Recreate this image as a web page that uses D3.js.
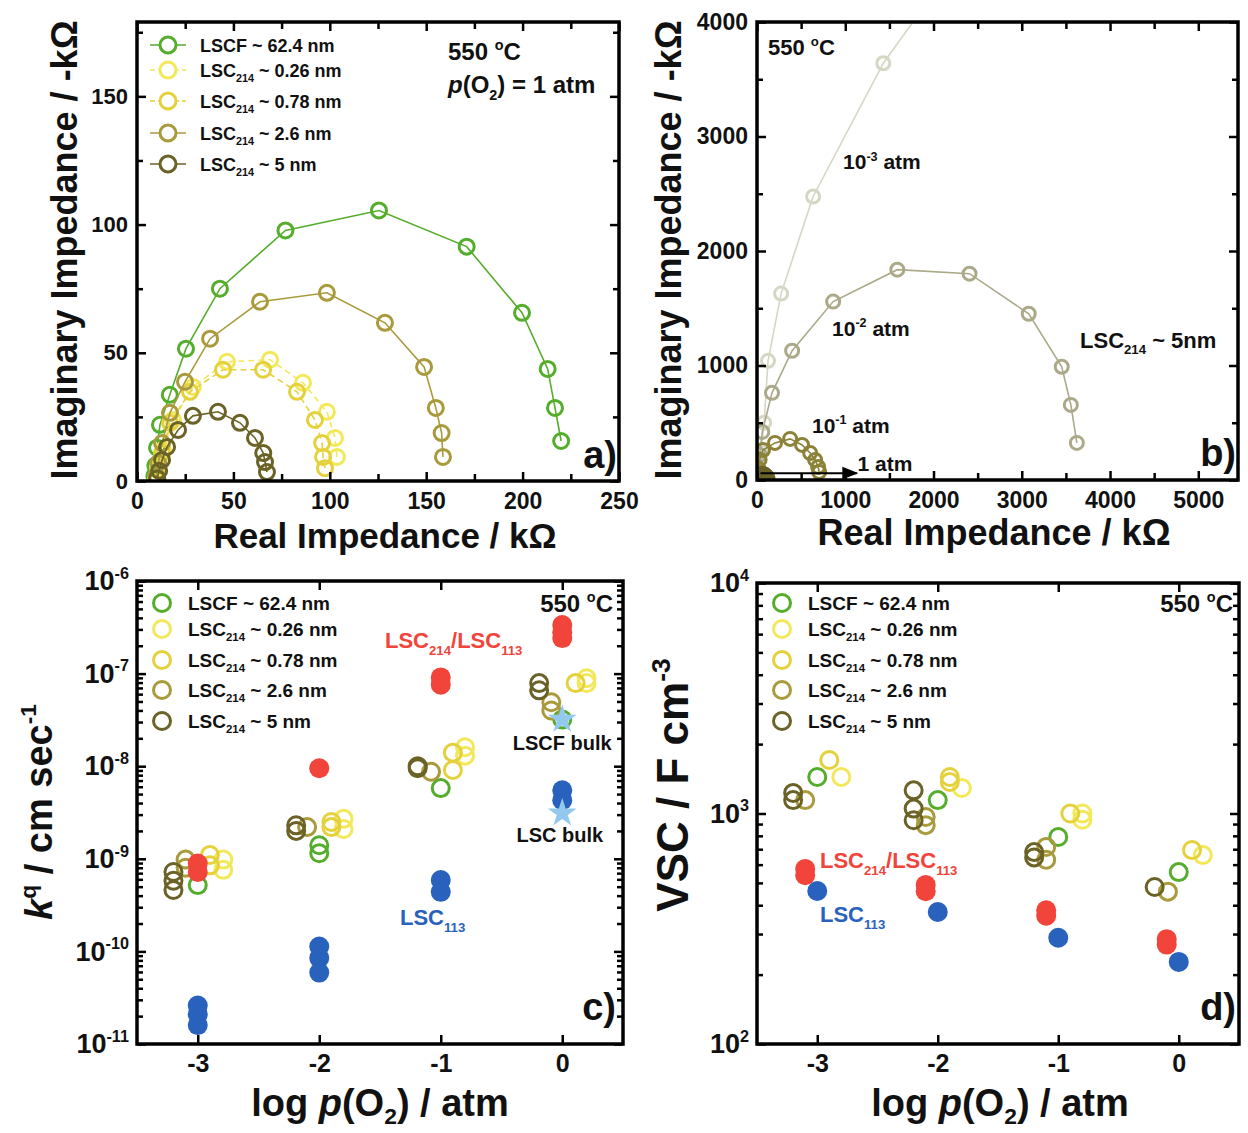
<!DOCTYPE html>
<html><head><meta charset="utf-8">
<script src="https://cdn.jsdelivr.net/npm/d3@7"></script>
<style>
body{margin:0;background:#fff}
svg{display:block;font-family:"Liberation Sans",Arial,sans-serif;font-weight:bold}
</style></head><body>
<script>
// ---- data ----
// a) Nyquist plots at 1 atm, [Z' kOhm, -Z'' kOhm]
const aLSCF = [[220,15.6],[216.8,28.5],[213,43.7],[199.7,65.6],[171,91.4],[125.5,105.5],[77,97.7],[43,75],[25.4,51.6],[17,33.6],[11.9,21.9],[10.4,13],[9.5,6],[9,2]]
const aLSC026 = [[103.7,9.4],[102.7,16.8],[98.5,27],[86.1,38.3],[69,47.3],[46.7,46.5],[29,36.7],[18.7,23.8],[13.5,12.1],[11,5],[10,1.5]]
const aLSC078 = [[97.5,5],[96.5,9.4],[96,14.8],[92.3,23.8],[83,34.8],[65.4,43.4],[44.6,43.4],[27.5,34.8],[17.1,22.7],[13,10.9],[11,4],[10,1]]
const aLSC26 = [[158.7,9.4],[158,18.7],[155,28.5],[148.9,44.5],[128.6,61.7],[98.5,73.4],[63.8,69.9],[37.9,55.5],[24.9,38.7],[17.1,26.6],[13,14.8],[11,7],[10,2]]
const aLSC5 = [[67.4,3.5],[66.4,7.4],[65.5,10.9],[61.2,16.8],[53.4,22.7],[42,27],[29,25.4],[21.3,19.9],[15.6,13.3],[13,8.2],[11.5,4],[10.5,1]]

// b) LSC214 ~ 5 nm at several p(O2)
const b3 = [[2000,4250],[1431,3640],[636,2476],[273,1628],[125,1041],[80,499],[45,250],[25,90]]
const b2 = [[3624,324],[3556,656],[3453,989],[3079,1452],[2408,1802],[1590,1837],[863,1558],[398,1129],[170,761],[60,420],[30,220],[15,80]]
const b1 = [[704,70],[693,114],[659,175],[602,236],[511,306],[375,359],[204,324],[68,262],[30,180],[15,100],[8,40]]
const b0 = [[120,10],[110,30],[90,45],[65,52],[40,45],[22,30],[10,15]]

// c) k^q vs log p(O2)
const cLSCF = [[0,3.2e-8],[-1,5.8e-9],[-2,1.4e-9],[-2,1.15e-9],[-3,5.2e-10]]
const cLSC026 = [[0.2,8.9e-8],[0.2,7.9e-8],[-0.8,1.6e-8],[-0.8,1.3e-8],[-1.8,2.7e-9],[-1.8,2.1e-9],[-2.79,9.8e-10],[-2.79,7.6e-10]]
const cLSC078 = [[0.11,7.9e-8],[-0.9,1.4e-8],[-0.9,9.1e-9],[-1.9,2.5e-9],[-1.9,2.2e-9],[-2.9,1.1e-9],[-2.9,8.5e-10]]
const cLSC26 = [[-0.09,4.9e-8],[-0.09,4.0e-8],[-1.08,8.7e-9],[-2.1,2.2e-9],[-3.1,9.8e-10],[-3.1,8e-10]]
const cLSC5 = [[-0.19,7.9e-8],[-0.19,6.6e-8],[-1.19,1.0e-8],[-1.19,9.5e-9],[-2.19,2.3e-9],[-2.19,2.0e-9],[-3.2,7.2e-10],[-3.2,5.8e-10],[-3.2,4.6e-10]]
const cHetero = [[0,3.35e-7],[0,2.8e-7],[0,2.42e-7],[-1,9.1e-8],[-1,7.6e-8],[-2,9.5e-9],[-3,8.9e-10],[-3,7.2e-10]]
const cLSC113 = [[0,5.5e-9],[0,4.3e-9],[-1,5.9e-10],[-1,4.4e-10],[-2,1.13e-10],[-2,8.5e-11],[-2,5.9e-11],[-3,2.6e-11],[-3,2.1e-11],[-3,1.6e-11]]
const cBulk = [[0,3.2e-8],[0,3.1e-9]]

// d) VSC vs log p(O2)
const dLSCF = [[-3,1440],[-2,1143],[-1,791],[0,557]]
const dLSC026 = [[-2.8,1440],[-1.8,1290],[-0.8,1000],[-0.8,940],[0.2,660]]
const dLSC078 = [[-2.9,1706],[-1.9,1440],[-1.9,1370],[-0.9,1000],[0.11,694]]
const dLSC26 = [[-3.1,1143],[-2.1,966],[-2.1,890],[-1.1,716],[-1.1,630],[-0.09,458]]
const dLSC5 = [[-3.2,1228],[-3.2,1143],[-2.2,1260],[-2.2,1050],[-2.2,935],[-1.2,680],[-1.2,645],[-0.2,480]]
const dHetero = [[-3.1,575],[-3.1,540],[-2.1,490],[-2.1,460],[-1.1,380],[-1.1,360],[-0.1,285],[-0.1,270]]
const dLSC113 = [[-3,461],[-2,374],[-1,289],[0,227]]

const seriesNames = [
  ['LSCF ~ 62.4 nm'],
  ['LSC',['214','sub'],' ~ 0.26 nm'],
  ['LSC',['214','sub'],' ~ 0.78 nm'],
  ['LSC',['214','sub'],' ~ 2.6 nm'],
  ['LSC',['214','sub'],' ~ 5 nm']
]
const col = {lscf:'#55ad2c', y026:'#f3e85a', y078:'#e4d13c', o26:'#a99a3c', o5:'#6a6226',
  red:'#f1443a', blue:'#2962bd', star:'#93c9ef', p3:'#d6d6c4', p2:'#aba98a', p1:'#8c8238', p0:'#6a6226'}
const seriesCol = [col.lscf, col.y026, col.y078, col.o26, col.o5]

// ---- drawing ----
const svg = d3.select('body').append('svg').attr('width',1248).attr('height',1133)

function rich(sel, parts, fs, subShift=0.3){
  let off = 0
  parts.forEach(p => {
    const [t,k] = Array.isArray(p) ? p : [p,null]
    const sh = k=='sub' ? subShift*fs : k=='sup' ? -0.42*fs : 0
    const ts = sel.append('tspan').text(t)
    if(sh-off) ts.attr('dy', sh-off)
    if(k=='sub'||k=='sup') ts.attr('font-size', fs*0.6)
    if(k=='i') ts.attr('font-style','italic')
    off = sh
  })
  return sel
}
function label(x, y, parts, fs, o={}){
  const t = svg.append('text').attr('x',x).attr('y',y).attr('font-size',fs)
    .attr('text-anchor',o.anchor||'start').attr('fill',o.fill||'#111')
  if(o.rot) t.attr('x',null).attr('y',null).attr('transform',`translate(${x},${y}) rotate(-90)`)
  return rich(t, parts, fs, o.sub)
}

function side(axis, tr, vals, len, fmt, pad, fs){
  const a = svg.append('g').attr('transform',tr)
    .call(axis.tickValues(vals).tickSizeInner(-len).tickSizeOuter(0).tickPadding(pad).tickFormat(fmt || (() => '')))
  a.select('.domain').remove()
  a.attr('font-family',null).attr('font-size',fs)
  a.selectAll('.tick line').attr('stroke','#000').attr('stroke-width',2.5)
  a.selectAll('.tick text').attr('fill','#111')
  return a
}
const logFmt = () => ''
function supLabels(a, fs){
  a.selectAll('.tick text').each(function(d){
    rich(d3.select(this), ['10',[String(Math.round(Math.log10(d))),'sup']], fs)
  })
}

function axes(box, x, y, o){
  const {x0,x1,y0,y1} = box
  const xf = o.xfmt || (d => String(d))
  side(d3.axisBottom(x), `translate(0,${y1})`, o.xMajor, 9, xf, o.xpad, o.fsx)
  side(d3.axisTop(x), `translate(0,${y0})`, o.xMajor, 9, null, 0, o.fsx)
  if(o.xMinor){
    side(d3.axisBottom(x), `translate(0,${y1})`, o.xMinor, 7, null, 0, o.fsx)
    side(d3.axisTop(x), `translate(0,${y0})`, o.xMinor, 7, null, 0, o.fsx)
  }
  const ly = side(d3.axisLeft(y), `translate(${x0},0)`, o.yMajor, 9, o.ylog ? logFmt : (d => String(d)), o.ypad, o.fsy)
  if(o.ylog) supLabels(ly, o.fsy)
  side(d3.axisRight(y), `translate(${x1},0)`, o.yMajor, 9, null, 0, o.fsy)
  if(o.yMinor){
    side(d3.axisLeft(y), `translate(${x0},0)`, o.yMinor, 6, null, 0, o.fsy)
    side(d3.axisRight(y), `translate(${x1},0)`, o.yMinor, 6, null, 0, o.fsy)
  }
  svg.append('rect').attr('x',x0).attr('y',y0).attr('width',x1-x0).attr('height',y1-y0)
    .attr('fill','none').attr('stroke','#000').attr('stroke-width',3.5)
}

function plotArea(box, id){
  svg.append('clipPath').attr('id',id).append('rect')
    .attr('x',box.x0).attr('y',box.y0).attr('width',box.x1-box.x0).attr('height',box.y1-box.y0)
  return svg.append('g').attr('clip-path',`url(#${id})`)
}
function series(g, data, x, y, color, o={}){
  if(o.line){
    g.append('path').datum(data).attr('fill','none').attr('stroke',color).attr('stroke-width',1.6)
      .attr('stroke-dasharray',o.dash||null)
      .attr('d',d3.line().x(d => x(d[0])).y(d => y(d[1])))
  }
  g.append('g').selectAll('circle').data(data).enter().append('circle')
    .attr('cx',d => x(d[0])).attr('cy',d => y(d[1])).attr('r',o.r||8)
    .attr('fill',o.filled ? color : 'none').attr('stroke',o.filled ? 'none' : color)
    .attr('stroke-width',o.sw||3)
}
function legend(x, rows, withLine, fs){
  rows.forEach((yy,i) => {
    if(withLine) svg.append('line').attr('x1',x-18).attr('x2',x+18).attr('y1',yy).attr('y2',yy)
      .attr('stroke',seriesCol[i]).attr('stroke-width',1.6).attr('stroke-dasharray',(i==1||i==2)?'5,3':null)
    svg.append('circle').attr('cx',x).attr('cy',yy).attr('r',withLine?8:8.5)
      .attr('fill',withLine?'#fff':'none').attr('stroke',seriesCol[i]).attr('stroke-width',3)
    label(x+(withLine?32:26), yy+6.5, seriesNames[i], fs)
  })
}

// ===== a) =====
const pa = {x0:137,x1:619,y0:22,y1:481}
const xa = d3.scaleLinear().domain([0,250]).range([pa.x0,pa.x1])
const ya = d3.scaleLinear().domain([0,179]).range([pa.y1,pa.y0])
const ga = plotArea(pa,'clipA')
;[aLSCF,aLSC026,aLSC078,aLSC26,aLSC5].forEach((s,i) =>
  series(ga, s, xa, ya, seriesCol[i], {line:true, r:7.5, dash:(i==1||i==2)?'6,4':null}))
axes(pa, xa, ya, {xMajor:d3.range(0,251,50), xMinor:d3.range(25,250,50), yMajor:[0,50,100,150], yMinor:[25,75,125,175],
  xpad:12, ypad:9, fsx:23, fsy:22})
legend(168, [45,70,101,133,164], true, 18)
label(448, 60, ['550 ',['o','sup'],'C'], 24)
label(448, 93, [['p','i'],'(O',['2','sub'],') = 1 atm'], 24)
label(617, 468, ['a)'], 38, {anchor:'end'})
label(385, 548, ['Real Impedance / kΩ'], 35, {anchor:'middle'})
label(77, 250, ['Imaginary Impedance / -kΩ'], 36, {anchor:'middle', rot:true})

// ===== b) =====
const pb = {x0:757,x1:1238,y0:22,y1:480}
const xb = d3.scaleLinear().domain([0,5450]).range([pb.x0,pb.x1])
const yb = d3.scaleLinear().domain([0,4000]).range([pb.y1,pb.y0])
const gb = plotArea(pb,'clipB')
;[[b3,col.p3],[b2,col.p2],[b1,col.p1],[b0,col.p0]].forEach(([s,c]) =>
  series(gb, s, xb, yb, c, {line:true, r:6.5, sw:3}))
axes(pb, xb, yb, {xMajor:d3.range(0,5001,1000), xMinor:d3.range(500,5000,1000), yMajor:d3.range(0,4001,1000), yMinor:d3.range(500,4000,1000),
  xpad:12, ypad:9, fsx:23, fsy:23})
svg.append('defs').append('marker').attr('id','arr').attr('viewBox','0 0 10 10').attr('refX',9).attr('refY',5)
  .attr('markerWidth',8).attr('markerHeight',8).attr('orient','auto')
  .append('path').attr('d','M0,1L10,5L0,9Z').attr('fill','#000')
svg.append('line').attr('x1',xb(40)).attr('x2',xb(1130)).attr('y1',yb(60)).attr('y2',yb(60))
  .attr('stroke','#000').attr('stroke-width',2).attr('marker-end','url(#arr)')
label(xb(1140), yb(75), ['1 atm'], 21)
label(xb(623), yb(411), ['10',['-1','sup'],' atm'], 21)
label(xb(850), yb(1260), ['10',['-2','sup'],' atm'], 21)
label(xb(975), yb(2712), ['10',['-3','sup'],' atm'], 21)
label(xb(3660), yb(1155), ['LSC',['214','sub'],' ~ 5nm'], 22)
label(768, 55, ['550 ',['o','sup'],'C'], 22)
label(1236, 466, ['b)'], 38, {anchor:'end'})
label(994, 545, ['Real Impedance / kΩ'], 36, {anchor:'middle'})
label(681, 250, ['Imaginary Impedance / -kΩ'], 36, {anchor:'middle', rot:true})

// ===== c) =====
const pc = {x0:137,x1:623,y0:581,y1:1044}
const xc = d3.scaleLinear().domain([-3.5,0.5]).range([pc.x0,pc.x1])
const yc = d3.scaleLog().domain([1e-11,1e-6]).range([pc.y1,pc.y0])
const decMinor = (lo,hi) => d3.range(lo,hi).flatMap(e => d3.range(2,10).map(m => m*Math.pow(10,e)))
const gc = plotArea(pc,'clipC')
;[cLSCF,cLSC026,cLSC078,cLSC26,cLSC5].forEach((s,i) => series(gc, s, xc, yc, seriesCol[i], {r:8.5}))
series(gc, cHetero, xc, yc, col.red, {filled:true, r:10})
series(gc, cLSC113, xc, yc, col.blue, {filled:true, r:10})
gc.append('g').selectAll('path').data(cBulk).enter().append('path')
  .attr('transform',d => `translate(${xc(d[0])},${yc(d[1])})`)
  .attr('d',d3.symbol(d3.symbolStar, 260)).attr('fill',col.star)
axes(pc, xc, yc, {xMajor:[-3,-2,-1,0], yMajor:[1e-11,1e-10,1e-9,1e-8,1e-7,1e-6], yMinor:decMinor(-11,-6), ylog:true,
  xpad:10, ypad:8, fsx:25, fsy:27})
legend(162, [603,629,660,690,721], false, 19)
label(613, 612, ['550 ',['o','sup'],'C'], 24, {anchor:'end'})
label(385, 648, ['LSC',['214','sub'],'/LSC',['113','sub']], 22, {fill:col.red})
label(xc(0), 750, ['LSCF bulk'], 20, {anchor:'middle'})
label(xc(-0.02), 842, ['LSC bulk'], 20, {anchor:'middle'})
label(400, 925, ['LSC',['113','sub']], 22, {fill:col.blue})
label(616, 1020, ['c)'], 38, {anchor:'end'})
label(380, 1116, ['log ',['p','i'],'(O',['2','sub'],') / atm'], 38, {anchor:'middle', sub:0.22})
label(52, 812, [['k','i'],['q','sup'],' / cm sec',['-1','sup']], 38, {anchor:'middle', rot:true})

// ===== d) =====
const pd = {x0:757,x1:1239,y0:583,y1:1044}
const xd = d3.scaleLinear().domain([-3.5,0.5]).range([pd.x0,pd.x1])
const yd = d3.scaleLog().domain([1e2,1e4]).range([pd.y1,pd.y0])
const gd = plotArea(pd,'clipD')
;[dLSCF,dLSC026,dLSC078,dLSC26,dLSC5].forEach((s,i) => series(gd, s, xd, yd, seriesCol[i], {r:8.5}))
series(gd, dHetero, xd, yd, col.red, {filled:true, r:10})
series(gd, dLSC113, xd, yd, col.blue, {filled:true, r:10})
axes(pd, xd, yd, {xMajor:[-3,-2,-1,0], yMajor:[1e2,1e3,1e4], yMinor:decMinor(2,4), ylog:true,
  xpad:10, ypad:8, fsx:25, fsy:27})
legend(782, [603,629,660,690,721], false, 19)
label(1233, 612, ['550 ',['o','sup'],'C'], 24, {anchor:'end'})
label(820, 868, ['LSC',['214','sub'],'/LSC',['113','sub']], 22, {fill:col.red})
label(820, 922, ['LSC',['113','sub']], 22, {fill:col.blue})
label(1236, 1020, ['d)'], 38, {anchor:'end'})
label(1000, 1116, ['log ',['p','i'],'(O',['2','sub'],') / atm'], 38, {anchor:'middle', sub:0.22})
label(688, 785, ['VSC / F cm',['-3','sup']], 44, {anchor:'middle', rot:true})
</script></body></html>
